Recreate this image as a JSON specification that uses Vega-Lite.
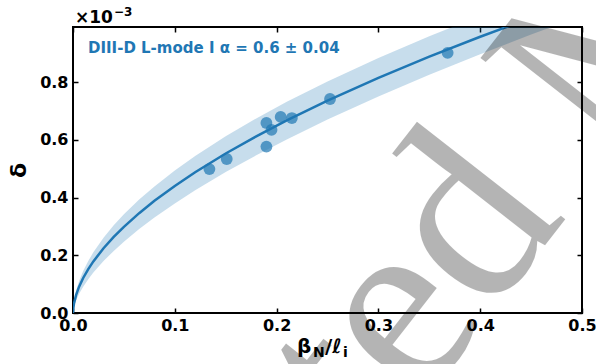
{
  "$schema": "https://vega.github.io/schema/vega-lite/v6.json",
  "width": 509,
  "height": 286,
  "autosize": {"type": "none"},
  "padding": {"left": 73, "top": 27, "right": 14, "bottom": 51},
  "background": "white",
  "config": {
    "view": {"stroke": "black", "strokeWidth": 2},
    "axis": {
      "domain": false,
      "grid": false,
      "tickColor": "black",
      "tickWidth": 1.5,
      "tickSize": -5,
      "labelFont": "DejaVu Sans",
      "labelFontSize": 16,
      "labelFontWeight": "bold",
      "labelColor": "black",
      "labelFlush": false,
      "labelOverlap": false,
      "titleFont": "DejaVu Sans",
      "titleColor": "black"
    },
    "text": {"font": "DejaVu Sans", "fontWeight": "bold", "color": "black", "align": "left", "baseline": "alphabetic"}
  },
  "datasets": {
    "fit": [
      {"x": 0, "delta": 0, "lo": 0, "hi": 0},
      {"x": 0.0002, "delta": 0.0136, "lo": 0.0081, "hi": 0.0183},
      {"x": 0.001, "delta": 0.0334, "lo": 0.0219, "hi": 0.0430},
      {"x": 0.003, "delta": 0.0619, "lo": 0.0432, "hi": 0.0770},
      {"x": 0.006, "delta": 0.0912, "lo": 0.0664, "hi": 0.1112},
      {"x": 0.01, "delta": 0.1214, "lo": 0.0912, "hi": 0.1458},
      {"x": 0.015, "delta": 0.1523, "lo": 0.1172, "hi": 0.1807},
      {"x": 0.02, "delta": 0.1789, "lo": 0.1401, "hi": 0.2105},
      {"x": 0.03, "delta": 0.2245, "lo": 0.1801, "hi": 0.2610},
      {"x": 0.04, "delta": 0.2638, "lo": 0.2153, "hi": 0.3040},
      {"x": 0.05, "delta": 0.2989, "lo": 0.2472, "hi": 0.3422},
      {"x": 0.065, "delta": 0.3462, "lo": 0.2909, "hi": 0.3932},
      {"x": 0.08, "delta": 0.3889, "lo": 0.3309, "hi": 0.4390},
      {"x": 0.1, "delta": 0.4407, "lo": 0.3800, "hi": 0.4940},
      {"x": 0.12, "delta": 0.4880, "lo": 0.4254, "hi": 0.5441},
      {"x": 0.15, "delta": 0.5530, "lo": 0.4886, "hi": 0.6125},
      {"x": 0.18, "delta": 0.6125, "lo": 0.5470, "hi": 0.6746},
      {"x": 0.21, "delta": 0.6677, "lo": 0.6019, "hi": 0.7321},
      {"x": 0.25, "delta": 0.7362, "lo": 0.6706, "hi": 0.8030},
      {"x": 0.3, "delta": 0.8153, "lo": 0.7509, "hi": 0.8844},
      {"x": 0.35, "delta": 0.8888, "lo": 0.8261, "hi": 0.9596},
      {"x": 0.4, "delta": 0.9578, "lo": 0.8975, "hi": 1.0301},
      {"x": 0.45, "delta": 1.0231, "lo": 0.9655, "hi": 1.0964},
      {"x": 0.5, "delta": 1.0853, "lo": 1.0307, "hi": 1.1594}
    ],
    "shots": [
      {"beta_li": 0.134, "delta": 0.499},
      {"beta_li": 0.151, "delta": 0.534},
      {"beta_li": 0.190, "delta": 0.659},
      {"beta_li": 0.195, "delta": 0.635},
      {"beta_li": 0.190, "delta": 0.577},
      {"beta_li": 0.204, "delta": 0.680},
      {"beta_li": 0.215, "delta": 0.676},
      {"beta_li": 0.2525, "delta": 0.742},
      {"beta_li": 0.368, "delta": 0.902}
    ],
    "one": [{}]
  },
  "resolve": {"axis": {"x": "independent", "y": "independent"}},
  "layer": [
    {
      "data": {"name": "fit"},
      "mark": {"type": "area", "color": "#1f77b4", "opacity": 0.25, "clip": true},
      "encoding": {
        "x": {
          "field": "x", "type": "quantitative",
          "scale": {"domain": [0, 0.5], "nice": false, "zero": false},
          "axis": {"orient": "bottom", "values": [0, 0.1, 0.2, 0.3, 0.4, 0.5], "format": ".1f", "labelPadding": 9, "title": null}
        },
        "y": {
          "field": "lo", "type": "quantitative",
          "scale": {"domain": [0, 0.9917], "nice": false},
          "axis": {"orient": "left", "values": [0, 0.2, 0.4, 0.6, 0.8], "format": ".1f", "labelPadding": 10,
                   "title": "δ", "titleFontSize": 22, "titleFontWeight": "bold", "titlePadding": 9}
        },
        "y2": {"field": "hi"}
      }
    },
    {
      "data": {"name": "fit"},
      "mark": {"type": "line", "color": "#1f77b4", "strokeWidth": 2.5, "clip": true},
      "encoding": {
        "x": {"field": "x", "type": "quantitative",
              "axis": {"orient": "top", "values": [0, 0.1, 0.2, 0.3, 0.4, 0.5], "labels": false, "title": null}},
        "y": {"field": "delta", "type": "quantitative",
              "axis": {"orient": "right", "values": [0, 0.2, 0.4, 0.6, 0.8], "labels": false, "title": null}}
      }
    },
    {
      "data": {"name": "shots"},
      "mark": {"type": "circle", "color": "#1f77b4", "opacity": 0.7, "size": 140},
      "encoding": {
        "x": {"field": "beta_li", "type": "quantitative", "axis": null},
        "y": {"field": "delta", "type": "quantitative", "axis": null}
      }
    },
    {
      "data": {"name": "one"},
      "mark": {"type": "text", "text": "DIII-D L-mode I α = 0.6 ± 0.04", "fontSize": 15, "color": "#1f77b4"},
      "encoding": {
        "x": {"datum": 0.0147, "type": "quantitative", "axis": null},
        "y": {"datum": 0.903, "type": "quantitative", "axis": null}
      }
    },
    {
      "data": {"name": "one"},
      "mark": {"type": "text", "text": "×10", "fontSize": 17},
      "encoding": {
        "x": {"datum": 0.002, "type": "quantitative", "axis": null},
        "y": {"datum": 1.007, "type": "quantitative", "axis": null}
      }
    },
    {
      "data": {"name": "one"},
      "mark": {"type": "text", "text": "−3", "fontSize": 12},
      "encoding": {
        "x": {"datum": 0.0403, "type": "quantitative", "axis": null},
        "y": {"datum": 1.031, "type": "quantitative", "axis": null}
      }
    },
    {
      "data": {"name": "one"},
      "mark": {"type": "text", "text": "β", "fontSize": 20},
      "encoding": {
        "x": {"datum": 0.2200, "type": "quantitative", "axis": null},
        "y": {"datum": -0.139, "type": "quantitative", "axis": null}
      }
    },
    {
      "data": {"name": "one"},
      "mark": {"type": "text", "text": "N", "fontSize": 14},
      "encoding": {
        "x": {"datum": 0.2358, "type": "quantitative", "axis": null},
        "y": {"datum": -0.153, "type": "quantitative", "axis": null}
      }
    },
    {
      "data": {"name": "one"},
      "mark": {"type": "text", "text": "/ℓ", "fontSize": 20},
      "encoding": {
        "x": {"datum": 0.2475, "type": "quantitative", "axis": null},
        "y": {"datum": -0.139, "type": "quantitative", "axis": null}
      }
    },
    {
      "data": {"name": "one"},
      "mark": {"type": "text", "text": "i", "fontSize": 14},
      "encoding": {
        "x": {"datum": 0.2652, "type": "quantitative", "axis": null},
        "y": {"datum": -0.153, "type": "quantitative", "axis": null}
      }
    },
    {
      "data": {"name": "one"},
      "mark": {"type": "text", "text": "Accepted", "align": "right", "angle": -52,
               "font": "Liberation Serif", "fontWeight": "normal", "fontSize": 255, "color": "black", "opacity": 0.29},
      "encoding": {
        "x": {"datum": 0.4855, "type": "quantitative", "axis": null},
        "y": {"datum": 0.3333, "type": "quantitative", "axis": null}
      }
    },
    {
      "data": {"name": "one"},
      "mark": {"type": "text", "text": "Manuscript", "angle": -52,
               "font": "Liberation Serif", "fontWeight": "normal", "fontSize": 255, "color": "black", "opacity": 0.29},
      "encoding": {
        "x": {"datum": 0.525, "type": "quantitative", "axis": null},
        "y": {"datum": 0.5076, "type": "quantitative", "axis": null}
      }
    }
  ]
}
